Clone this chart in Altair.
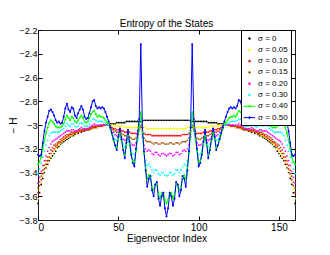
import altair as alt
import pandas as pd

labels = ["σ = 0", "σ = 0.05", "σ = 0.10", "σ = 0.15", "σ = 0.20", "σ = 0.30", "σ = 0.40", "σ = 0.50"]
colors = ["#000000", "#ffff00", "#ff0000", "#a65000", "#ff00ff", "#00ffff", "#00ff00", "#0000ff"]
index = list(range(161))

s000 = [-3.66,-3.57,-3.50,-3.45,-3.40,-3.36,-3.33,-3.30,-3.28,-3.26,
        -3.24,-3.22,-3.19,-3.18,-3.16,-3.15,-3.14,-3.13,-3.12,-3.11,
        -3.10,-3.09,-3.09,-3.08,-3.07,-3.07,-3.06,-3.06,-3.05,-3.05,
        -3.04,-3.04,-3.04,-3.03,-3.03,-3.02,-3.02,-3.02,-3.01,-3.01,
        -3.01,-3.00,-3.00,-3.00,-3.00,-2.99,-2.99,-2.99,-2.99,-2.98,
        -2.98,-2.98,-2.98,-2.98,-2.98,-2.97,-2.97,-2.97,-2.97,-2.97,
        -2.97,-2.97,-2.97,-2.97,-2.97,-2.97,-2.96,-2.96,-2.96,-2.96,
        -2.96,-2.96,-2.96,-2.96,-2.96,-2.96,-2.96,-2.96,-2.96,-2.96,
        -2.96,
        -2.96,-2.96,-2.96,-2.96,-2.96,-2.96,-2.96,-2.96,-2.96,-2.96,
        -2.96,-2.96,-2.96,-2.96,-2.97,-2.97,-2.97,-2.97,-2.97,-2.97,
        -2.97,-2.97,-2.97,-2.97,-2.97,-2.98,-2.98,-2.98,-2.98,-2.98,
        -2.98,-2.99,-2.99,-2.99,-2.99,-3.00,-3.00,-3.00,-3.00,-3.01,
        -3.01,-3.01,-3.02,-3.02,-3.02,-3.03,-3.03,-3.04,-3.04,-3.04,
        -3.05,-3.05,-3.06,-3.06,-3.07,-3.07,-3.08,-3.09,-3.09,-3.10,
        -3.11,-3.12,-3.13,-3.14,-3.15,-3.16,-3.18,-3.19,-3.22,-3.24,
        -3.26,-3.28,-3.30,-3.33,-3.36,-3.40,-3.45,-3.50,-3.57,-3.66]

s005 = [-3.62,-3.54,-3.48,-3.43,-3.39,-3.35,-3.32,-3.29,-3.27,-3.24,
        -3.22,-3.20,-3.18,-3.17,-3.15,-3.14,-3.13,-3.12,-3.11,-3.10,
        -3.09,-3.09,-3.08,-3.07,-3.07,-3.06,-3.06,-3.05,-3.05,-3.04,
        -3.04,-3.04,-3.03,-3.03,-3.03,-3.02,-3.02,-3.02,-3.01,-3.01,
        -3.01,-3.01,-3.00,-3.00,-3.00,-3.00,-3.00,-3.00,-3.01,-3.01,
        -3.01,-3.01,-3.01,-3.01,-3.02,-3.02,-3.02,-3.02,-3.02,-3.02,
        -3.02,-3.02,-3.02,-3.02,-3.01,-3.02,-3.02,-3.02,-3.03,-3.03,
        -3.03,-3.03,-3.03,-3.03,-3.03,-3.03,-3.03,-3.03,-3.03,-3.03,
        -3.03,
        -3.03,-3.03,-3.03,-3.03,-3.03,-3.03,-3.03,-3.03,-3.03,-3.03,
        -3.03,-3.03,-3.02,-3.02,-3.02,-3.01,-3.02,-3.02,-3.02,-3.02,
        -3.02,-3.02,-3.02,-3.02,-3.02,-3.02,-3.01,-3.01,-3.01,-3.01,
        -3.01,-3.01,-3.00,-3.00,-3.00,-3.00,-3.00,-3.00,-3.01,-3.01,
        -3.01,-3.01,-3.02,-3.02,-3.02,-3.03,-3.03,-3.03,-3.04,-3.04,
        -3.04,-3.05,-3.05,-3.06,-3.06,-3.07,-3.07,-3.08,-3.09,-3.09,
        -3.10,-3.11,-3.12,-3.13,-3.14,-3.15,-3.17,-3.18,-3.20,-3.22,
        -3.24,-3.27,-3.29,-3.32,-3.35,-3.39,-3.43,-3.48,-3.54,-3.62]

s010 = [-3.57,-3.51,-3.46,-3.41,-3.37,-3.33,-3.30,-3.27,-3.24,-3.22,
        -3.20,-3.18,-3.17,-3.15,-3.14,-3.13,-3.12,-3.11,-3.10,-3.09,
        -3.08,-3.08,-3.07,-3.07,-3.06,-3.06,-3.05,-3.05,-3.05,-3.04,
        -3.04,-3.04,-3.03,-3.03,-3.02,-3.02,-3.02,-3.01,-3.01,-3.01,
        -3.01,-3.00,-3.00,-3.00,-3.00,-3.01,-3.02,-3.03,-3.03,-3.04,
        -3.04,-3.04,-3.05,-3.05,-3.06,-3.06,-3.06,-3.06,-3.07,-3.07,
        -3.07,-3.07,-3.05,-3.04,-3.02,-3.05,-3.07,-3.08,-3.08,-3.08,
        -3.08,-3.09,-3.09,-3.09,-3.09,-3.09,-3.09,-3.09,-3.09,-3.09,
        -3.09,
        -3.09,-3.09,-3.09,-3.09,-3.09,-3.09,-3.09,-3.09,-3.09,-3.08,
        -3.08,-3.08,-3.08,-3.07,-3.05,-3.02,-3.04,-3.05,-3.07,-3.07,
        -3.07,-3.07,-3.06,-3.06,-3.06,-3.06,-3.05,-3.05,-3.04,-3.04,
        -3.04,-3.03,-3.03,-3.02,-3.01,-3.00,-3.00,-3.00,-3.00,-3.01,
        -3.01,-3.01,-3.01,-3.02,-3.02,-3.02,-3.03,-3.03,-3.04,-3.04,
        -3.04,-3.05,-3.05,-3.05,-3.06,-3.06,-3.07,-3.07,-3.08,-3.08,
        -3.09,-3.10,-3.11,-3.12,-3.13,-3.14,-3.15,-3.17,-3.18,-3.20,
        -3.22,-3.24,-3.27,-3.30,-3.33,-3.37,-3.41,-3.46,-3.51,-3.57]

s015 = [-3.53,-3.48,-3.43,-3.38,-3.34,-3.30,-3.27,-3.24,-3.21,-3.19,
        -3.17,-3.16,-3.15,-3.14,-3.12,-3.11,-3.10,-3.09,-3.08,-3.08,
        -3.07,-3.06,-3.06,-3.06,-3.06,-3.05,-3.04,-3.04,-3.04,-3.04,
        -3.04,-3.03,-3.03,-3.02,-3.01,-3.01,-3.01,-3.01,-3.01,-3.00,
        -3.00,-3.00,-3.00,-3.00,-3.00,-3.01,-3.03,-3.04,-3.05,-3.06,
        -3.06,-3.06,-3.07,-3.08,-3.09,-3.09,-3.09,-3.10,-3.11,-3.12,
        -3.12,-3.11,-3.08,-3.05,-3.02,-3.08,-3.11,-3.13,-3.14,-3.14,
        -3.14,-3.15,-3.16,-3.15,-3.15,-3.16,-3.16,-3.15,-3.15,-3.16,
        -3.16,
        -3.16,-3.15,-3.15,-3.16,-3.16,-3.15,-3.15,-3.16,-3.15,-3.14,
        -3.14,-3.14,-3.13,-3.11,-3.08,-3.02,-3.05,-3.08,-3.11,-3.12,
        -3.12,-3.11,-3.10,-3.09,-3.09,-3.09,-3.08,-3.07,-3.06,-3.06,
        -3.06,-3.05,-3.04,-3.03,-3.01,-3.00,-3.00,-3.00,-3.00,-3.00,
        -3.00,-3.01,-3.01,-3.01,-3.01,-3.01,-3.02,-3.03,-3.03,-3.04,
        -3.04,-3.04,-3.04,-3.04,-3.05,-3.06,-3.06,-3.06,-3.06,-3.07,
        -3.08,-3.08,-3.09,-3.10,-3.11,-3.12,-3.14,-3.15,-3.16,-3.17,
        -3.19,-3.21,-3.24,-3.27,-3.30,-3.34,-3.38,-3.43,-3.48,-3.53]

s020 = [-3.49,-3.44,-3.39,-3.34,-3.30,-3.26,-3.22,-3.19,-3.16,-3.14,
        -3.13,-3.12,-3.11,-3.10,-3.09,-3.08,-3.07,-3.06,-3.05,-3.05,
        -3.05,-3.04,-3.04,-3.05,-3.05,-3.04,-3.03,-3.02,-3.03,-3.03,
        -3.03,-3.03,-3.02,-3.01,-3.00,-2.99,-3.00,-3.00,-3.00,-3.00,
        -3.00,-3.00,-3.00,-3.00,-3.00,-3.02,-3.04,-3.06,-3.08,-3.09,
        -3.08,-3.08,-3.10,-3.12,-3.13,-3.12,-3.12,-3.14,-3.16,-3.17,
        -3.17,-3.15,-3.10,-3.05,-3.00,-3.10,-3.17,-3.20,-3.22,-3.21,
        -3.22,-3.24,-3.25,-3.23,-3.23,-3.25,-3.26,-3.24,-3.24,-3.25,
        -3.26,
        -3.25,-3.24,-3.24,-3.26,-3.25,-3.23,-3.23,-3.25,-3.24,-3.22,
        -3.21,-3.22,-3.20,-3.17,-3.10,-3.00,-3.05,-3.10,-3.15,-3.17,
        -3.17,-3.16,-3.14,-3.12,-3.12,-3.13,-3.12,-3.10,-3.08,-3.08,
        -3.09,-3.08,-3.06,-3.04,-3.02,-3.00,-3.00,-3.00,-3.00,-3.00,
        -3.00,-3.00,-3.00,-3.00,-2.99,-3.00,-3.01,-3.02,-3.03,-3.03,
        -3.03,-3.03,-3.02,-3.03,-3.04,-3.05,-3.05,-3.04,-3.04,-3.05,
        -3.05,-3.05,-3.06,-3.07,-3.08,-3.09,-3.10,-3.11,-3.12,-3.13,
        -3.14,-3.16,-3.19,-3.22,-3.26,-3.30,-3.34,-3.39,-3.44,-3.49]

s030 = [-3.41,-3.37,-3.32,-3.27,-3.22,-3.17,-3.13,-3.09,-3.07,-3.06,
        -3.06,-3.06,-3.06,-3.06,-3.05,-3.04,-3.03,-3.01,-2.99,-3.00,
        -3.01,-2.99,-2.99,-3.01,-3.02,-3.01,-2.99,-2.98,-2.99,-3.01,
        -3.01,-3.01,-2.99,-2.97,-2.95,-2.95,-2.96,-2.97,-2.97,-2.97,
        -2.97,-2.98,-2.99,-3.00,-3.00,-3.03,-3.06,-3.09,-3.12,-3.13,
        -3.10,-3.09,-3.12,-3.16,-3.18,-3.15,-3.13,-3.17,-3.21,-3.24,
        -3.25,-3.20,-3.12,-3.05,-2.96,-3.10,-3.24,-3.30,-3.34,-3.33,
        -3.35,-3.38,-3.40,-3.38,-3.38,-3.41,-3.42,-3.40,-3.40,-3.42,
        -3.43,
        -3.42,-3.40,-3.40,-3.42,-3.41,-3.38,-3.38,-3.40,-3.38,-3.35,
        -3.33,-3.34,-3.30,-3.24,-3.10,-2.96,-3.05,-3.12,-3.20,-3.25,
        -3.24,-3.21,-3.17,-3.13,-3.15,-3.18,-3.16,-3.12,-3.09,-3.10,
        -3.13,-3.12,-3.09,-3.06,-3.03,-3.00,-3.00,-2.99,-2.98,-2.97,
        -2.97,-2.97,-2.97,-2.96,-2.95,-2.95,-2.97,-2.99,-3.01,-3.01,
        -3.01,-2.99,-2.98,-2.99,-3.01,-3.02,-3.01,-2.99,-2.99,-3.01,
        -3.00,-2.99,-3.01,-3.03,-3.04,-3.05,-3.06,-3.06,-3.06,-3.06,
        -3.06,-3.07,-3.09,-3.13,-3.17,-3.22,-3.27,-3.32,-3.37,-3.41]

s040 = [-3.33,-3.31,-3.27,-3.20,-3.13,-3.07,-3.02,-2.98,-2.96,-2.97,
        -2.99,-3.01,-3.02,-3.02,-3.02,-3.01,-2.99,-2.95,-2.92,-2.94,
        -2.96,-2.93,-2.94,-2.97,-2.98,-2.96,-2.94,-2.92,-2.94,-2.97,
        -2.98,-2.97,-2.94,-2.91,-2.89,-2.88,-2.91,-2.93,-2.92,-2.93,
        -2.93,-2.94,-2.96,-2.98,-2.99,-3.03,-3.08,-3.13,-3.17,-3.19,
        -3.12,-3.07,-3.13,-3.20,-3.25,-3.17,-3.09,-3.16,-3.24,-3.30,
        -3.31,-3.22,-3.12,-3.02,-2.89,-3.06,-3.24,-3.36,-3.46,-3.42,
        -3.44,-3.52,-3.55,-3.50,-3.50,-3.58,-3.62,-3.57,-3.57,-3.63,
        -3.66,
        -3.63,-3.57,-3.57,-3.62,-3.58,-3.50,-3.50,-3.55,-3.52,-3.44,
        -3.42,-3.46,-3.36,-3.24,-3.06,-2.89,-3.02,-3.12,-3.22,-3.31,
        -3.30,-3.24,-3.16,-3.09,-3.17,-3.25,-3.20,-3.13,-3.07,-3.12,
        -3.19,-3.17,-3.13,-3.08,-3.03,-2.99,-2.98,-2.96,-2.94,-2.93,
        -2.93,-2.92,-2.93,-2.91,-2.88,-2.89,-2.91,-2.94,-2.97,-2.98,
        -2.97,-2.94,-2.92,-2.94,-2.96,-2.98,-2.97,-2.94,-2.93,-2.96,
        -2.94,-2.92,-2.95,-2.99,-3.01,-3.02,-3.02,-3.02,-3.01,-2.99,
        -2.97,-2.96,-2.98,-3.02,-3.07,-3.13,-3.20,-3.27,-3.31,-3.33]

s050 = [-3.25,-3.26,-3.25,-3.15,-3.05,-2.98,-2.93,-2.88,-2.87,-2.89,
        -2.92,-2.96,-2.98,-2.97,-2.99,-2.98,-2.93,-2.86,-2.82,-2.87,
        -2.89,-2.85,-2.86,-2.92,-2.94,-2.90,-2.87,-2.84,-2.87,-2.93,
        -2.95,-2.94,-2.90,-2.85,-2.80,-2.79,-2.84,-2.86,-2.85,-2.86,
        -2.85,-2.86,-2.89,-2.93,-2.97,-3.02,-3.07,-3.12,-3.17,-3.21,
        -3.10,-3.03,-3.12,-3.21,-3.28,-3.15,-3.04,-3.14,-3.25,-3.32,
        -3.35,-3.20,-3.08,-2.95,-2.32,-3.02,-3.22,-3.38,-3.52,-3.45,
        -3.43,-3.55,-3.60,-3.50,-3.48,-3.62,-3.68,-3.60,-3.57,-3.70,
        -3.77,
        -3.70,-3.57,-3.60,-3.68,-3.62,-3.48,-3.50,-3.60,-3.55,-3.43,
        -3.45,-3.52,-3.38,-3.22,-3.02,-2.32,-2.95,-3.08,-3.20,-3.35,
        -3.32,-3.25,-3.14,-3.04,-3.15,-3.28,-3.21,-3.12,-3.03,-3.10,
        -3.21,-3.17,-3.12,-3.07,-3.02,-2.97,-2.93,-2.89,-2.86,-2.85,
        -2.86,-2.85,-2.86,-2.84,-2.79,-2.80,-2.85,-2.90,-2.94,-2.95,
        -2.93,-2.87,-2.84,-2.87,-2.90,-2.94,-2.92,-2.86,-2.85,-2.89,
        -2.87,-2.82,-2.86,-2.93,-2.98,-2.99,-2.97,-2.98,-2.96,-2.92,
        -2.89,-2.87,-2.88,-2.93,-2.98,-3.05,-3.15,-3.25,-3.26,-3.25]

series = [s000, s005, s010, s015, s020, s030, s040, s050]
x_ticks = [0, 50, 100, 150]
y_ticks = [-3.8, -3.6, -3.4, -3.2, -3.0, -2.8, -2.6, -2.4, -2.2]

rows = []
for k, (lab, vals) in enumerate(zip(labels, series)):
    for i, v in zip(index, vals):
        rows.append({"s": lab, "k": k, "i": i, "v": v})
df = pd.DataFrame(rows)

FONT = "Liberation Sans"
DOT = "M-0.18,0A0.18,0.18,0,1,1,0.18,0A0.18,0.18,0,1,1,-0.18,0Z"
LDOT = "M-1.15,0L1.15,0M-0.18,0A0.18,0.18,0,1,1,0.18,0A0.18,0.18,0,1,1,-0.18,0Z"
shapes = [DOT] * 6 + [LDOT] * 2

xs = alt.Scale(domain=[0, 160], nice=False, zero=False)
ys = alt.Scale(domain=[-3.8, -2.2], nice=False, zero=False)
cs = alt.Scale(domain=labels, range=colors)

ax_common = dict(domain=False, grid=False, tickSize=4, offset=-4, tickColor="#000",
                 labelFont=FONT, labelColor="#000",
                 titleFont=FONT, titleFontSize=10, titleFontWeight="normal", titleColor="#000")

x_bottom = alt.Axis(values=x_ticks, title="Eigenvector Index", orient="bottom",
                    labelFontSize=10, labelPadding=2, titlePadding=1, **ax_common)
y_left = alt.Axis(values=y_ticks, title="− H", orient="left", format=".1~f",
                  labelFontSize=9.2, labelPadding=1, titlePadding=0, **ax_common)
x_top = alt.Axis(values=x_ticks, title=None, orient="top", labels=False,
                 domain=False, grid=False, tickSize=4, offset=-4, tickColor="#000")
y_right = alt.Axis(values=y_ticks, title=None, orient="right", labels=False,
                   domain=False, grid=False, tickSize=4, offset=-4, tickColor="#000")

leg = alt.Legend(title=None, orient="none", legendX=203, legendY=0,
                 fillColor="white", strokeColor="black", padding=3,
                 rowPadding=1.3, symbolSize=100, symbolStrokeWidth=1, symbolOpacity=1,
                 labelFont=FONT, labelFontSize=8, labelOffset=3, labelColor="#000",
                 labelExpr="datum.label + '  '")

base = alt.Chart(df)
color_enc = alt.Color("s:N", scale=cs, legend=leg)

legend_layer = base.transform_filter(alt.datum.i == 0).mark_point(opacity=0, filled=False).encode(
    x=alt.X("i:Q", scale=xs, axis=x_top),
    y=alt.Y("v:Q", scale=ys, axis=y_right),
    color=color_enc,
    shape=alt.Shape("s:N", scale=alt.Scale(domain=labels, range=shapes), legend=leg),
)

dots = base.transform_filter(alt.datum.k < 6).mark_circle(size=3, opacity=1).encode(
    x=alt.X("i:Q", scale=xs, axis=x_bottom),
    y=alt.Y("v:Q", scale=ys, axis=y_left),
    color=color_enc,
)

lines = base.transform_filter(alt.datum.k >= 6).mark_line(strokeWidth=1).encode(
    x=alt.X("i:Q", scale=xs, axis=None),
    y=alt.Y("v:Q", scale=ys, axis=None),
    color=color_enc,
    detail="s:N",
)

ldots = base.transform_filter(alt.datum.k >= 6).mark_circle(size=4, opacity=1).encode(
    x=alt.X("i:Q", scale=xs, axis=None),
    y=alt.Y("v:Q", scale=ys, axis=None),
    color=color_enc,
)

chart = alt.layer(legend_layer, dots, lines, ldots).resolve_axis(
    x="independent", y="independent"
).properties(
    width=257, height=190,
    title=alt.TitleParams("Entropy of the States", font=FONT, fontSize=10,
                          fontWeight="normal", color="#000", offset=-3),
    padding={"left": 0, "top": 11, "right": 5, "bottom": 5},
).configure_view(stroke="#222", strokeWidth=1)

chart.save("out.html", embed_options={"renderer": "svg", "actions": False})
